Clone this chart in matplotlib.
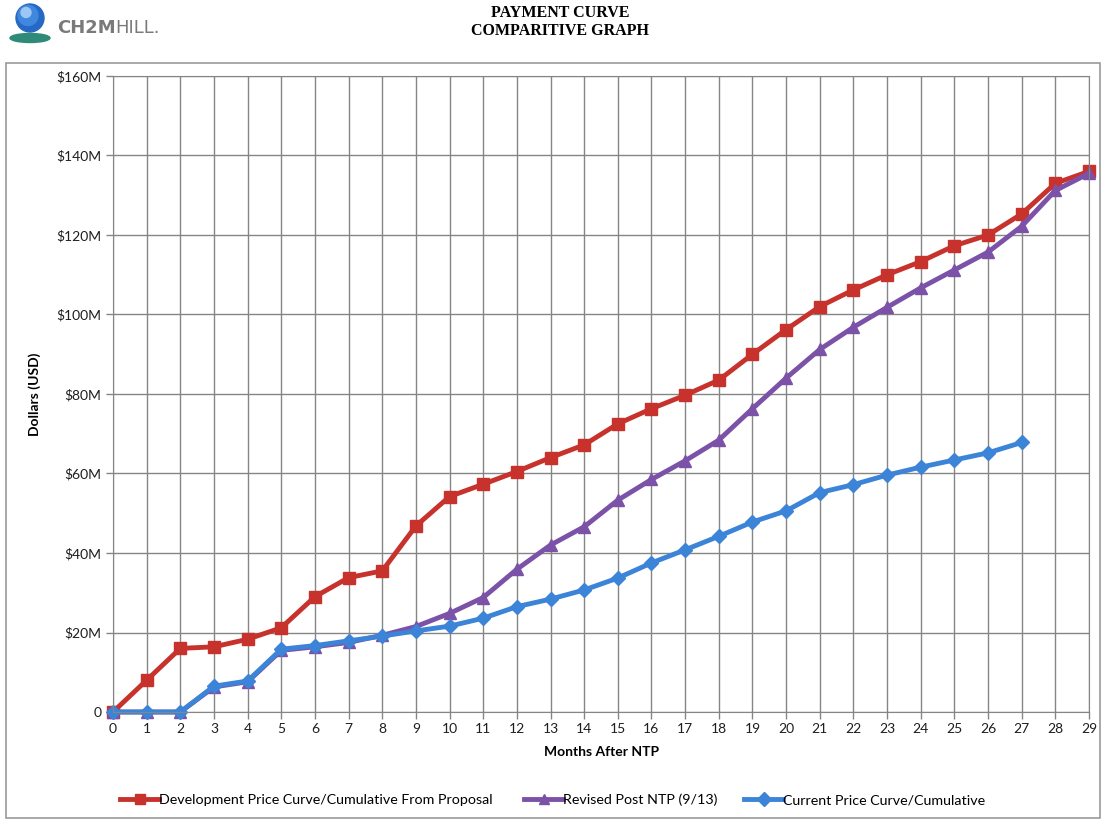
import matplotlib
matplotlib.use("Agg")
import matplotlib.pyplot as plt
from matplotlib.patches import Circle, Ellipse, Rectangle
from matplotlib.lines import Line2D
from matplotlib.ticker import FuncFormatter, MultipleLocator

# Cumulative payment curves, $ millions, by month after NTP
months = list(range(30))
development = [0, 8, 16, 16.4, 18.3, 21.2, 29, 33.8, 35.5, 46.8, 54.2, 57.3, 60.5, 64, 67.2,
               72.5, 76.3, 79.7, 83.5, 90, 96.2, 102, 106.2, 110, 113.3, 117.3, 120, 125.3, 133, 136]
revised = [0, 0, 0, 6.3, 7.6, 15.5, 16.4, 17.5, 19.3, 21.5, 24.8, 28.8, 35.9, 42, 46.6,
           53.3, 58.5, 63.2, 68.4, 76.3, 84, 91.2, 96.8, 101.8, 106.7, 111.2, 115.7, 122.2, 131.2, 135.5]
current_months = list(range(28))
current = [0, 0, 0, 6.5, 7.8, 15.8, 16.7, 17.9, 19.1, 20.4, 21.6, 23.6, 26.5, 28.4, 30.7,
           33.7, 37.5, 40.8, 44.2, 47.8, 50.6, 55.2, 57.2, 59.6, 61.6, 63.4, 65.2, 67.8]

labels = ["Development Price Curve/Cumulative From Proposal",
          "Revised Post NTP (9/13)",
          "Current Price Curve/Cumulative"]
colors = ["#c8322c", "#7b52a8", "#3b84d8"]
markers = ["s", "^", "D"]

plt.rcParams['font.family'] = ['Lato', 'DejaVu Sans']

W, H = 1105, 822
fig = plt.figure(figsize=(W / 100, H / 100), dpi=100)
fig.patch.set_facecolor("white")

# outer chart frame
fig.add_artist(Rectangle((6 / W, 1 - 818 / H), (1100 - 6) / W, (818 - 63) / H,
                         transform=fig.transFigure, fill=False, edgecolor="#9a9a9a", lw=1.2))

ax = fig.add_axes([113 / W, 1 - 712 / H, (1089 - 113) / W, (712 - 76) / H])
ax.set_xlim(0, 29)
ax.set_ylim(0, 160)
ax.xaxis.set_major_locator(MultipleLocator(1))
ax.yaxis.set_major_locator(MultipleLocator(20))
ax.yaxis.set_major_formatter(FuncFormatter(lambda v, p: "0" if v == 0 else f"${int(v)}M"))
ax.grid(True, color="#858585", lw=1.0)
ax.set_axisbelow(True)
for s in ax.spines.values():
    s.set_color("#858585")
ax.tick_params(axis="both", colors="#858585", labelcolor="#1e1e1e", labelsize=10, length=5, width=1)
ax.tick_params(axis="x", pad=3)

# series drawn in order, later ones on top
series = [(months, development), (months, revised), (current_months, current)]
handles = []
for (xs, ys), lab, c, m in zip(series, labels, colors, markers):
    ms = 8.5 if m != "D" else 7.5
    (h,) = ax.plot(xs, ys, color=c, lw=3.5, marker=m, ms=ms, mfc=c, mec=c, label=lab,
                   clip_on=False)
    handles.append(h)

ax.set_ylabel("Dollars (USD)", fontsize=10, fontweight="bold", labelpad=11)
ax.set_xlabel("Months After NTP", fontsize=10, fontweight="bold", labelpad=8)

# legend entries placed individually along the bottom
leg_x = [120, 524, 744]
for h, lab, x in zip(handles, labels, leg_x):
    proxy = Line2D([0], [0], color=h.get_color(), lw=3.5, marker=h.get_marker(),
                   ms=7.5, mfc=h.get_color(), mec=h.get_color())
    fig.legend([proxy], [lab], loc="center left", bbox_to_anchor=(x / W, 1 - 800 / H),
               frameon=False, fontsize=10.25, handlelength=2.75, handletextpad=0.0,
               borderaxespad=0, borderpad=0)

# title
fig.text(560 / W, 1 - 13 / H, "PAYMENT CURVE", ha="center", va="center",
         fontsize=11.5, fontweight="bold", family="Liberation Serif")
fig.text(560 / W, 1 - 31 / H, "COMPARITIVE GRAPH", ha="center", va="center",
         fontsize=11.5, fontweight="bold", family="Liberation Serif")

# company logo
lax = fig.add_axes([0, 1 - 55 / H, 200 / W, 55 / H])
lax.set_xlim(0, 200)
lax.set_ylim(55, 0)
lax.set_aspect("equal")
lax.axis("off")
lax.add_patch(Ellipse((30, 38), 40, 9, color="#2f8a78"))
lax.add_patch(Circle((30, 18), 14, color="#2569c4"))
lax.add_patch(Circle((28, 15.5), 10, color="#3f88dd"))
lax.add_patch(Circle((26, 12.5), 5, color="#9cc6f3"))
t1 = lax.text(57, 28, "CH2M", fontsize=13, fontweight="bold", color="#7a7a7a",
              family="DejaVu Sans", va="center", ha="left")
lax.annotate("HILL.", xy=(1, 0.5), xycoords=t1, fontsize=13, color="#7a7a7a",
             family="DejaVu Sans", va="center", ha="left")

fig.savefig("out.png", dpi=100, facecolor="white")
